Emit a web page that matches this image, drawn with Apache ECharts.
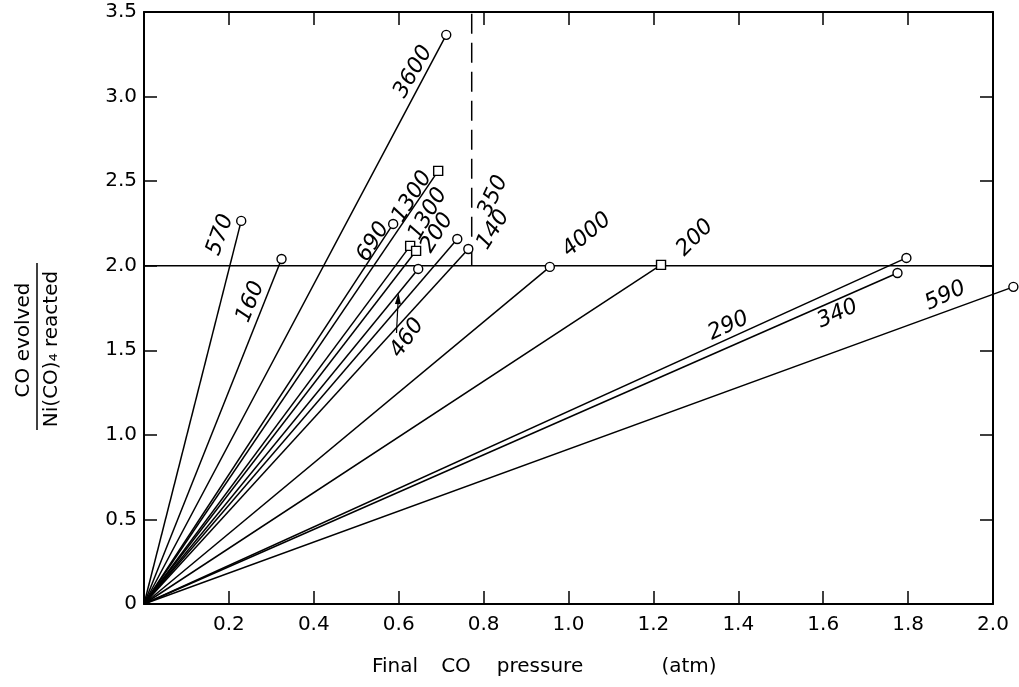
<!DOCTYPE html>
<html><head><meta charset="utf-8">
<script src="https://cdn.jsdelivr.net/npm/echarts@6/dist/echarts.min.js"></script>
<style>html,body{margin:0;padding:0;background:#fff}#c{width:1019px;height:687px}</style>
</head><body><div id="c"></div>
<script>
// ---- data ----
const runLabels     = ['570','160','3600','690','1300','1300','200','460','350','140','4000','200','290','340','590'];
const finalPressure = [0.229,0.324,0.712,0.587,0.693,0.627,0.641,0.646,0.738,0.764,0.956,1.218,1.796,1.775,2.048];
const coRatio       = [2.265,2.040,3.365,2.247,2.561,2.117,2.088,1.981,2.158,2.099,1.993,2.005,2.046,1.957,1.875];
const markerShapes  = ['circle','circle','circle','circle','rect','rect','rect','circle','circle','circle','circle','rect','circle','circle','circle'];
const refRatio = 2.0;          // horizontal reference line
const dashedPressure = 0.772;  // vertical dashed line
const xMin = 0, xMax = 2.0, xStep = 0.2;
const yMin = 0, yMax = 3.5, yStep = 0.5;
const xTitleWords = ['Final','CO','pressure','(atm)'];
const yTitleTop = 'CO evolved';
const yTitleBottom = 'Ni(CO)\u2084 reacted';
const arrowRun = 7;            // index of the run whose line the arrow points to
const arrowFrac = 0.928;       // fraction along that line

// ---- label layout (pixel offsets from marker, rotation in degrees) ----
const labelLayout = [
  {dx:-21,dy:14,rot:70},{dx:-31,dy:43,rot:68},{dx:-33,dy:37,rot:60},{dx:-20,dy:18,rot:58},
  {dx:-26,dy:26,rot:58},{dx:18,dy:-32,rot:60},{dx:21,dy:-18,rot:58},{dx:-11,dy:69,rot:55},
  {dx:36,dy:-43,rot:65},{dx:25,dy:-19,rot:58},{dx:37,dy:-32,rot:40},{dx:34,dy:-27,rot:45},
  {dx:-178,dy:68,rot:25},{dx:-60,dy:41,rot:24},{dx:-68,dy:9,rot:25}
];

const FONT = '"DejaVu Sans", sans-serif';
const chart = echarts.init(document.getElementById('c'), null, {renderer:'canvas'});

const runData = runLabels.map((lab, i) => [finalPressure[i], coRatio[i], markerShapes[i] === 'rect' ? 1 : 0]);

const axisCommon = {
  splitLine:{show:false},
  axisLine:{show:true, onZero:false, lineStyle:{color:'#000', width:2}},
  axisTick:{show:true, inside:true, length:13, lineStyle:{color:'#000', width:1.5}}
};

const option = {
  animation: false,
  backgroundColor: '#fff',
  grid: {left:144, right:26, top:12, bottom:83, containLabel:false},
  xAxis: [
    Object.assign({}, axisCommon, {type:'value', min:xMin, max:xMax, interval:xStep, position:'bottom',
      axisLabel:{show:true, margin:11, color:'#000', fontFamily:FONT, fontSize:20,
        formatter: v => (Math.abs(v) < 1e-9 ? '' : v.toFixed(1))}}),
    Object.assign({}, axisCommon, {type:'value', min:xMin, max:xMax, interval:xStep, position:'top',
      axisLabel:{show:false}})
  ],
  yAxis: [
    Object.assign({}, axisCommon, {type:'value', min:yMin, max:yMax, interval:yStep, position:'left',
      axisLabel:{show:true, margin:7, color:'#000', fontFamily:FONT, fontSize:20,
        formatter: v => (Math.abs(v) < 1e-9 ? '0' : v.toFixed(1))}}),
    Object.assign({}, axisCommon, {type:'value', min:yMin, max:yMax, interval:yStep, position:'right',
      axisLabel:{show:false}})
  ],
  series: [
    {type:'line', silent:true, animation:false, symbol:'none', z:2,
      lineStyle:{color:'#000', width:1.5}, data:[[xMin, refRatio],[xMax, refRatio]]},
    {type:'line', silent:true, animation:false, symbol:'none', z:2,
      lineStyle:{color:'#000', width:1.5, type:[20,9]}, data:[[dashedPressure, refRatio],[dashedPressure, yMax]]},
    {type:'custom', silent:true, animation:false, clip:false, z:3, data: runData,
      renderItem: (params, api) => {
        const o = api.coord([0, 0]);
        const e = api.coord([api.value(0), api.value(1)]);
        return {type:'line', shape:{x1:o[0], y1:o[1], x2:e[0], y2:e[1]}, style:{stroke:'#000', lineWidth:1.5}};
      }},
    {type:'custom', silent:true, animation:false, clip:false, z:4, data: runData,
      renderItem: (params, api) => {
        const e = api.coord([api.value(0), api.value(1)]);
        const st = {fill:'#fff', stroke:'#000', lineWidth:1.4};
        return api.value(2) === 1
          ? {type:'rect', shape:{x:e[0]-4.5, y:e[1]-4.5, width:9, height:9}, style:st}
          : {type:'circle', shape:{cx:e[0], cy:e[1], r:4.5}, style:st};
      }}
  ]
};
chart.setOption(option);

// ---- annotations placed through the chart's own scales ----
const px = (x, y) => chart.convertToPixel({xAxisIndex:0, yAxisIndex:0}, [x, y]);
const graphics = [];
runLabels.forEach((lab, i) => {
  const p = px(finalPressure[i], coRatio[i]);
  const L = labelLayout[i];
  graphics.push({type:'text', silent:true, z:10, x:p[0]+L.dx, y:p[1]+L.dy, rotation:L.rot*Math.PI/180,
    style:{text:lab, fill:'#000', font:'italic 22px ' + FONT, align:'center', verticalAlign:'middle'}});
});
// arrow for run 460
const head = px(finalPressure[arrowRun]*arrowFrac, coRatio[arrowRun]*arrowFrac);
const tail = [head[0]-2, head[1]+40];
const ang = Math.atan2(head[1]-tail[1], head[0]-tail[0]);
const back = [head[0]-11*Math.cos(ang), head[1]-11*Math.sin(ang)];
const nx = -Math.sin(ang)*3, ny = Math.cos(ang)*3;
graphics.push({type:'line', silent:true, z:10, shape:{x1:tail[0], y1:tail[1], x2:back[0], y2:back[1]}, style:{stroke:'#000', lineWidth:1.2}});
graphics.push({type:'polygon', silent:true, z:10, shape:{points:[[head[0],head[1]],[back[0]+nx,back[1]+ny],[back[0]-nx,back[1]-ny]]}, style:{fill:'#000'}});

// axis titles
const xTitleCenters = [395, 456, 540, 689];
xTitleWords.forEach((w, i) => {
  graphics.push({type:'text', silent:true, x:xTitleCenters[i], y:667,
    style:{text:w, fill:'#000', font:'20px ' + FONT, align:'center', verticalAlign:'middle'}});
});
graphics.push({type:'text', silent:true, x:24, y:340, rotation:Math.PI/2,
  style:{text:yTitleTop, fill:'#000', font:'20px ' + FONT, align:'center', verticalAlign:'middle'}});
graphics.push({type:'text', silent:true, x:52, y:349, rotation:Math.PI/2,
  style:{text:yTitleBottom, fill:'#000', font:'20px ' + FONT, align:'center', verticalAlign:'middle'}});
graphics.push({type:'line', silent:true, shape:{x1:37, y1:263, x2:37, y2:430}, style:{stroke:'#000', lineWidth:1.5}});

chart.setOption({graphic: graphics});
</script>
</body></html>
